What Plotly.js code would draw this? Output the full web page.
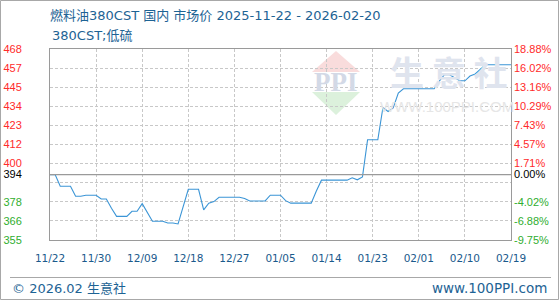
<!DOCTYPE html>
<html>
<head>
<meta charset="utf-8">
<script src="https://cdn.plot.ly/plotly-3.0.1.min.js"></script>
<style>
  html, body { margin: 0; padding: 0; background: #fff; }
  #chart { width: 560px; height: 300px; }
</style>
</head>
<body>
<div id="chart"></div>
<script>
// ---- data ----
const titleText = '燃料油380CST 国内 市场价 2025-11-22 - 2026-02-20';
const subTitle = '380CST;低硫';
const basePrice = 393.67;
const prices = [
  393.7, 393.7, 386.8, 386.8, 386.8, 380.9, 380.9, 381.5, 381.5, 381.5,
  379.3, 379.3, 373.8, 369.0, 369.0, 369.0, 372.0, 372.0, 376.5, 371.2,
  366.1, 366.1, 366.1, 365.1, 365.1, 364.5, 375.0, 385.0, 385.0, 385.0,
  372.8, 376.8, 377.7, 380.3, 380.3, 380.3, 380.3, 380.3, 379.5, 378.1,
  378.1, 378.1, 378.1, 381.5, 381.5, 381.5, 378.3, 376.8, 376.8, 376.8,
  376.8, 376.8, 384.0, 390.4, 390.4, 390.4, 390.4, 390.4, 390.4, 391.8,
  390.6, 392.3, 414.3, 414.3, 414.3, 433.4, 431.0, 433.1, 441.9, 444.5,
  444.5, 444.5, 444.5, 444.5, 444.5, 444.5, 449.0, 452.8, 452.8, 451.0,
  449.2, 449.2, 452.0, 453.2, 456.0, 458.7, 458.7, 458.7, 458.7, 458.7,
  458.7
];
const xTickPos = [0, 9, 18, 27, 36, 45, 54, 63, 72, 81, 90];
const xTickLabels = ['11/22', '11/30', '12/09', '12/18', '12/27', '01/05', '01/14', '01/23', '02/01', '02/10', '02/19'];
const yTickVals = [468, 456.7, 445.4, 434.1, 422.8, 411.5, 400.2, 388.9, 393.67, 377.6, 366.3, 355];
const yTickLabels = ['468', '457', '445', '434', '423', '412', '400', '', '394', '378', '366', '355'];
const pctTickLabels = ['18.88%', '16.02%', '13.16%', '10.29%', '7.43%', '4.57%', '1.71%', '', '0.00%', '-4.02%', '-6.88%', '-9.75%'];
const yRange = [355, 468];

// ---- helpers ----
const RED = '#ff2a2a', GREEN = '#2fae2f', BLACK = '#000000';
function colorFor(v) { return v > basePrice + 0.01 ? RED : (v < basePrice - 0.01 ? GREEN : BLACK); }
function colored(labels) {
  return labels.map((t, i) => t === '' ? '' : '<span style="color:' + colorFor(yTickVals[i]) + '">' + t + '</span>');
}
const xIndex = prices.map((_, i) => i);

// pixel -> paper helpers for decorations (plot area 50..511 x 49..240)
const L = 50, R = 511, T = 49, B = 240;
const px = x => (x - L) / (R - L);
const py = y => (B - y) / (B - T);

const trace = {
  x: xIndex, y: prices, type: 'scatter', mode: 'lines',
  line: { color: '#3b95d6', width: 1.1 },
  hoverinfo: 'skip', showlegend: false
};
const trace2 = {
  x: [xIndex[0]], y: [prices[0]], yaxis: 'y2', type: 'scatter', mode: 'markers',
  marker: { opacity: 0 }, hoverinfo: 'skip', showlegend: false
};

const layout = {
  width: 560, height: 300,
  margin: { l: L, r: 560 - R, t: T, b: 300 - B },
  paper_bgcolor: '#fff', plot_bgcolor: '#fff',
  showlegend: false,
  title: {
    text: titleText, x: px(50), xanchor: 'left', xref: 'paper',
    y: 1 - 15 / 300, yref: 'container', yanchor: 'middle',
    font: { family: 'DejaVu Sans, Noto Sans CJK SC, sans-serif', size: 13, color: '#1d6394' }
  },
  xaxis: {
    range: [0, 90], tickvals: xTickPos, ticktext: xTickLabels,
    showgrid: true, gridcolor: '#c8c8c8', griddash: '3px,2px', gridwidth: 1,
    zeroline: false, showline: true, mirror: true, linecolor: '#9a9a9a', linewidth: 1,
    ticks: '', ticklabelstandoff: 8,
    tickfont: { family: 'DejaVu Sans, sans-serif', size: 10.5, color: '#1a5a8c' },
    fixedrange: true
  },
  yaxis: {
    range: yRange, tickvals: yTickVals, ticktext: colored(yTickLabels),
    showgrid: true, gridcolor: '#c8c8c8', griddash: '3px,2px', gridwidth: 1,
    zeroline: false, showline: true, mirror: true, linecolor: '#9a9a9a', linewidth: 1,
    ticks: '', ticklabelstandoff: 25,
    tickfont: { family: 'Liberation Sans, Arial, sans-serif', size: 11, color: '#000' },
    fixedrange: true
  },
  yaxis2: {
    overlaying: 'y', side: 'right', matches: 'y', range: yRange,
    tickvals: yTickVals, ticktext: colored(pctTickLabels),
    showgrid: false, zeroline: false, showline: false, ticks: '', ticklabelstandoff: 2,
    tickfont: { family: 'Liberation Sans, Arial, sans-serif', size: 11, color: '#000' },
    fixedrange: true
  },
  shapes: [
    // watermark triangles
    { type: 'path', xref: 'paper', yref: 'paper', layer: 'below',
      path: 'M' + px(336) + ',' + py(51) + ' L' + px(312) + ',' + py(72) + ' L' + px(360) + ',' + py(72) + ' Z',
      fillcolor: '#f9dcdc', line: { width: 0 } },
    { type: 'path', xref: 'paper', yref: 'paper', layer: 'below',
      path: 'M' + px(312) + ',' + py(92) + ' L' + px(360) + ',' + py(92) + ' L' + px(336) + ',' + py(115) + ' Z',
      fillcolor: '#dcf1dc', line: { width: 0 } },
    // base line
    { type: 'line', xref: 'paper', yref: 'y', x0: 0, x1: 1, y0: basePrice, y1: basePrice,
      line: { color: '#9a9a9a', width: 1.2 } },
    // outer frame
    { type: 'rect', xref: 'paper', yref: 'paper', x0: px(0.5), x1: px(558.5), y0: py(0.5), y1: py(299.5),
      line: { color: '#a8a8a8', width: 1 }, fillcolor: 'rgba(0,0,0,0)' },
    // footer separator
    { type: 'line', xref: 'paper', yref: 'paper', x0: px(10), x1: px(551), y0: py(277.5), y1: py(277.5),
      line: { color: '#a8a8a8', width: 1 } }
  ],
  annotations: [
    { text: subTitle, xref: 'paper', yref: 'paper', x: px(50), y: py(35), xanchor: 'left', yanchor: 'middle',
      showarrow: false, font: { family: 'DejaVu Sans, Noto Sans CJK SC, sans-serif', size: 13, color: '#1d6394' } },
    { text: '<b>PPI</b>', xref: 'paper', yref: 'paper', x: px(336), y: py(82), xanchor: 'center', yanchor: 'middle',
      showarrow: false, font: { family: 'Liberation Serif, serif', size: 27, color: '#d3d9e6' } },
    { text: '<b>生 意 社</b>', xref: 'paper', yref: 'paper', x: px(448), y: py(71), xanchor: 'center', yanchor: 'middle',
      showarrow: false, font: { family: 'Noto Sans CJK SC, sans-serif', size: 34, color: '#dfe4ee' } },
    { text: 'WWW.100PPI.COM', xref: 'paper', yref: 'paper', x: px(447), y: py(106), xanchor: 'center', yanchor: 'middle',
      showarrow: false, font: { family: 'Liberation Sans, Arial, sans-serif', size: 15, color: '#e6e6e6' } },
    { text: '© 2026.02 生意社', xref: 'paper', yref: 'paper', x: px(10), y: py(288), xanchor: 'left', yanchor: 'middle',
      showarrow: false, font: { family: 'DejaVu Sans, Noto Sans CJK SC, sans-serif', size: 13, color: '#1d6394' } },
    { text: 'www.100PPI.com', xref: 'paper', yref: 'paper', x: px(549), y: py(288), xanchor: 'right', yanchor: 'middle',
      showarrow: false, font: { family: 'DejaVu Sans, sans-serif', size: 13.5, color: '#1d6394' } }
  ]
};

Plotly.newPlot('chart', [trace, trace2], layout, { staticPlot: true, displayModeBar: false });
</script>
</body>
</html>
